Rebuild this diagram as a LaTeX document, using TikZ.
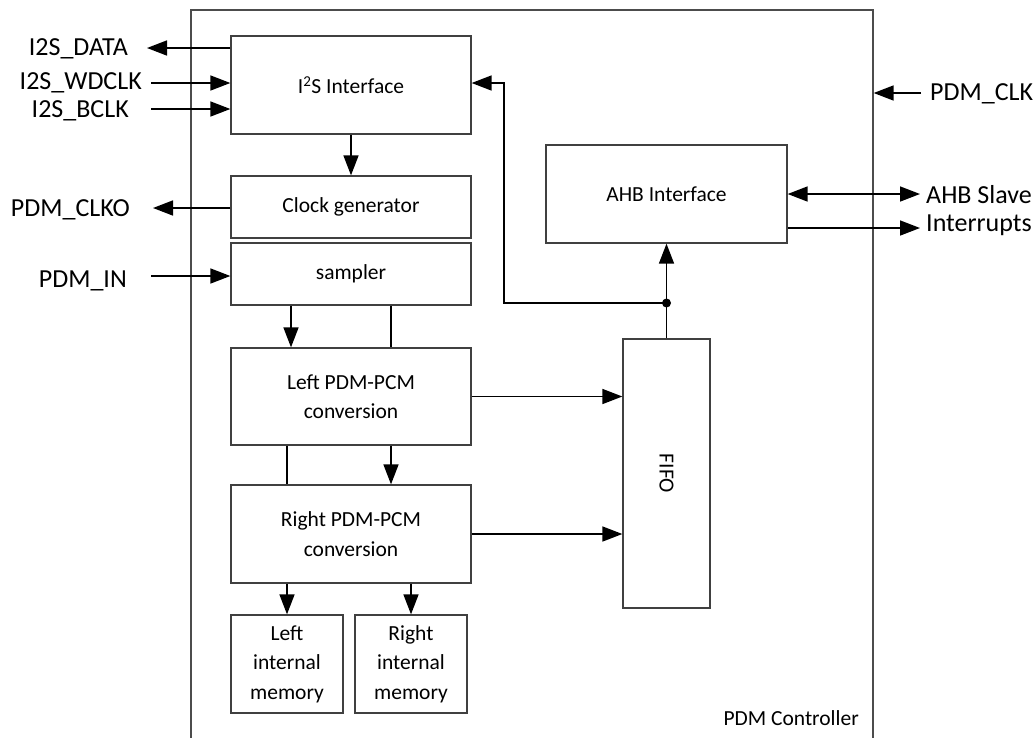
\documentclass[tikz,border=0pt]{standalone}
\usepackage{fontspec}
\setmainfont{Carlito}
\usetikzlibrary{arrows.meta,calc}
\begin{document}
\begin{tikzpicture}[x=1pt,y=-1pt,
  blk/.style={draw=black!75,line width=1.3pt,rectangle,align=center,inner sep=0pt,
    font=\fontsize{21.5}{29.5}\selectfont},
  outerbox/.style={draw=black!70,line width=1.3pt,rectangle,inner sep=0pt},
  lbl/.style={inner sep=0pt,font=\fontsize{26}{31}\selectfont},
  wire/.style={line width=1.6pt,black},
  arr/.style={wire,-{Triangle[length=20pt,width=15pt]}},
  biarr/.style={wire,{Triangle[length=20pt,width=15pt]}-{Triangle[length=20pt,width=15pt]}}
]
\clip (0,0) rectangle (1034,737);
\fill[white] (0,0) rectangle (1034,737);

% outer controller box
\node[outerbox,minimum width=682pt,minimum height=760pt] (ctrl) at (532,390) {};
\node[lbl,anchor=base east,font=\fontsize{21.5}{26}\selectfont] (ctrlname) at (859,725) {PDM Controller};

% blocks
\node[blk,minimum width=240pt,minimum height=98pt] (i2s) at (351,85) {I\textsuperscript{2}S Interface};
\node[blk,minimum width=240pt,minimum height=62pt] (clk) at (351,207) {Clock generator};
\node[blk,minimum width=240pt,minimum height=62pt] (samp) at (351,274) {sampler};
\node[blk,minimum width=240pt,minimum height=97pt] (left) at (351,396.5) {Left PDM-PCM\\conversion};
\node[blk,minimum width=240pt,minimum height=98pt] (right) at (351,534) {Right PDM-PCM\\conversion};
\node[blk,minimum width=112pt,minimum height=98pt] (lmem) at (287,664) {Left\\internal\\memory};
\node[blk,minimum width=112pt,minimum height=98pt] (rmem) at (411,664) {Right\\internal\\memory};
\node[blk,minimum width=87pt,minimum height=269pt] (fifo) at (666.5,473.5) {};
\node[rotate=-90,inner sep=0pt,font=\fontsize{21.5}{26}\selectfont] (fifotxt) at (fifo.center) {FIFO};
\node[blk,minimum width=241pt,minimum height=98pt] (ahb) at (666.5,194) {AHB Interface};

% external labels
\node[lbl,anchor=base east] (ldata) at (128,55) {I2S\_DATA};
\node[lbl,anchor=base east] (lwd) at (142,89) {I2S\_WDCLK};
\node[lbl,anchor=base east] (lbclk) at (129,117) {I2S\_BCLK};
\node[lbl,anchor=base east] (lclko) at (130,216) {PDM\_CLKO};
\node[lbl,anchor=base east] (lin) at (127,287) {PDM\_IN};
\node[lbl,anchor=base west] (lclk) at (930,100) {PDM\_CLK};
\node[lbl,anchor=base west] (lahb) at (926,203) {AHB Slave};
\node[lbl,anchor=base west] (lint) at (926,231) {Interrupts};

% free ends
\coordinate (dataend) at (147,48);
\coordinate (wdstart) at (151,83);
\coordinate (bcstart) at (151,109);
\coordinate (clkoend) at (153,208);
\coordinate (instart) at (151,276);
\coordinate (pdmclkstart) at (921,93);
\coordinate (ahbend) at (920,194);
\coordinate (intend) at (920,228);
\coordinate (j) at (666.5,303);
\coordinate (fb) at (504,303);
\coordinate (fbtop) at (504,83);

% connectors
\draw[arr] (i2s.west |- dataend) -- (dataend);
\draw[arr] (wdstart) -- (i2s.west |- wdstart);
\draw[arr] (bcstart) -- (i2s.west |- bcstart);
\draw[arr] (clk.west |- clkoend) -- (clkoend);
\draw[arr] (instart) -- (samp.west |- instart);
\draw[arr] (i2s) -- (clk);
\draw[arr] ([xshift=-60pt]samp.south) -- ([xshift=-60pt]left.north);
\draw[wire] ([xshift=40pt]samp.south) -- ([xshift=40pt]left.north);
\draw[wire] ([xshift=-64pt]left.south) -- ([xshift=-64pt]right.north);
\draw[arr] ([xshift=40pt]left.south) -- ([xshift=40pt]right.north);
\draw[arr] (right.south -| lmem.north) -- (lmem.north);
\draw[arr] (right.south -| rmem.north) -- (rmem.north);
\draw[arr] (left.east) -- (left.east -| fifo.west);
\draw[arr] (right.east) -- (right.east -| fifo.west);
\draw[wire] (fifo.north) -- (j);
\draw[arr] (j) -- (ahb.south);
\draw[arr] (j) -- (fb) -- (fbtop) -- (fbtop -| i2s.east);
\fill (j) circle (4.5);
\draw[arr] (pdmclkstart) -- (pdmclkstart -| ctrl.east);
\draw[biarr] (ahb.east |- ahbend) -- (ahbend);
\draw[arr] (ahb.east |- intend) -- (intend);
\end{tikzpicture}
\end{document}
